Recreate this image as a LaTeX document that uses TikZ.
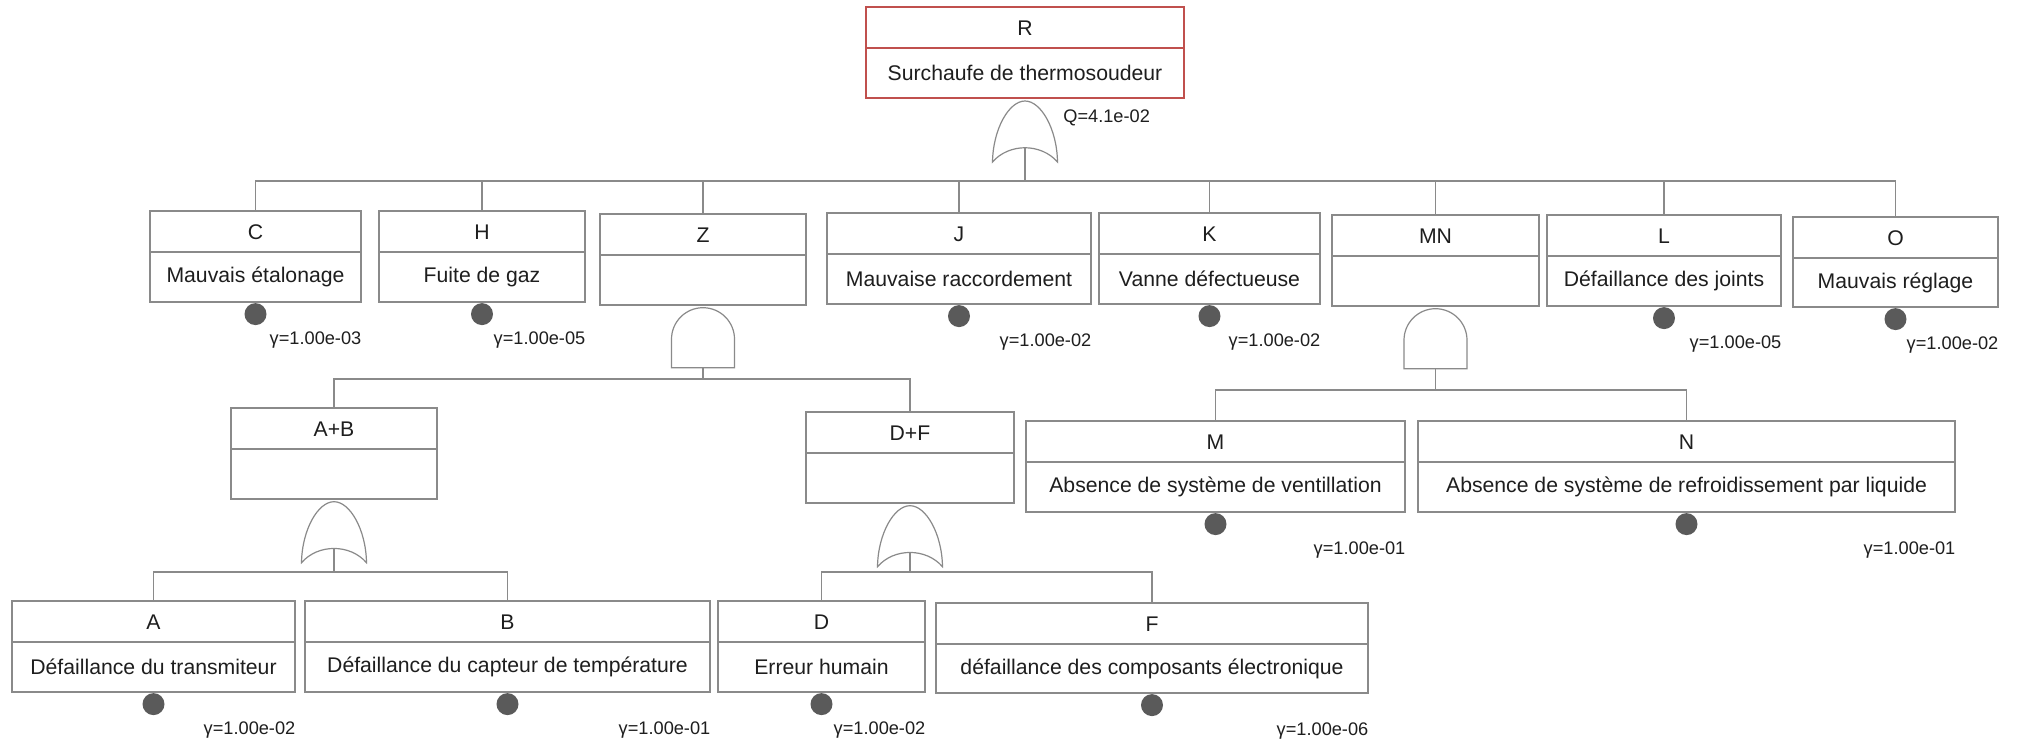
\documentclass[tikz,border=0pt]{standalone}
\usepackage{fontspec}
\setmainfont{Liberation Sans}
\usetikzlibrary{calc}

\definecolor{frame}{HTML}{8A8A8A}
\definecolor{topred}{HTML}{C0504D}
\definecolor{dotgray}{HTML}{5A5A5A}
\definecolor{ink}{HTML}{1E1E1E}

\tikzset{
  evframe/.style={draw=frame, line width=0.7pt, inner sep=0pt},
  topframe/.style={draw=topred, line width=1pt, inner sep=0pt},
  lbl/.style={text=ink, font=\fontsize{10.6}{12}\selectfont, inner sep=0pt},
  prob/.style={text=ink, font=\fontsize{9.1}{11}\selectfont, inner sep=0pt, anchor=east},
  basicdot/.style={circle, fill=dotgray, inner sep=0pt, minimum size=11pt, anchor=north},
  wire/.style={draw=frame, line width=0.7pt},
  gateline/.style={draw=frame, line width=0.6pt},
}

% event box: [style] name, left, right, top, bottom, identifier, description
\newcommand\evbox[8][evframe]{%
  \node[#1, minimum width={(#4-#3)*0.5pt}, minimum height={(#6-#5)*0.5pt}]
    (#2) at ({(#3+#4)/2},{(#5+#6)/2}) {};
  \draw[#1] (#3,{#5+41}) -- (#4,{#5+41});
  \node[lbl] (#2-id) at ({(#3+#4)/2},{#5+21}) {#7};
  \node[lbl] (#2-tx) at ({(#3+#4)/2},{(#5+41+#6)/2}) {#8};
}

% basic event marker under a box, with its probability
\newcommand\leaf[2]{%
  \node[basicdot] (#1-p) at (#1.south) {};
  \node[prob] (#1-q) at ($(#1.south east)+(0,37)$) {γ=#2};
}

% OR gate hanging under a box
\newcommand\orgate[2]{%
  \coordinate (#1) at ($(#2.south)+(0,2)$);
  \draw[gateline] ($(#1)+(-32.5,61)$)
    .. controls ($(#1)+(-32,28)$) and ($(#1)+(-16,0)$) .. (#1)
    .. controls ($(#1)+(16,0)$) and ($(#1)+(32,28)$) .. ($(#1)+(32.5,61)$)
    .. controls ($(#1)+(16,42)$) and ($(#1)+(-16,42)$) .. ($(#1)+(-32.5,61)$) -- cycle;
  \coordinate (#1-in) at ($(#1)+(0,47)$);
}

% AND gate hanging under a box
\newcommand\andgate[2]{%
  \coordinate (#1) at ($(#2.south)+(0,2)$);
  \draw[gateline] ($(#1)+(-31.5,60)$) -- ($(#1)+(-31.5,31.5)$)
    .. controls ($(#1)+(-31.5,14.1)$) and ($(#1)+(-17.4,0)$) .. (#1)
    .. controls ($(#1)+(17.4,0)$) and ($(#1)+(31.5,14.1)$) .. ($(#1)+(31.5,31.5)$)
    -- ($(#1)+(31.5,60)$) -- cycle;
  \coordinate (#1-in) at ($(#1)+(0,60)$);
}

\begin{document}
\begin{tikzpicture}[x=0.5pt, y=-0.5pt]
\useasboundingbox[fill=white] (0,0) rectangle (2020,744);

% top event
\evbox[topframe]{R}{866}{1184}{7}{98}{R}{Surchaufe de thermosoudeur}
\orgate{gR}{R}
\node[prob, anchor=west] (R-q) at (1063,118) {Q=4.1e-02};

% first level
\evbox{C}{150}{361}{211}{302}{C}{Mauvais étalonage}
\evbox{H}{379}{585}{211}{302}{H}{Fuite de gaz}
\evbox{Z}{600}{806}{214}{305}{Z}{}
\evbox{J}{827}{1091}{213}{304}{J}{Mauvaise raccordement}
\evbox{K}{1099}{1320}{213}{304}{K}{Vanne défectueuse}
\evbox{MN}{1332}{1539}{215}{306}{MN}{}
\evbox{L}{1547}{1781}{215}{306}{L}{Défaillance des joints}
\evbox{O}{1793}{1998}{217}{307}{O}{Mauvais réglage}

\leaf{C}{1.00e-03}
\leaf{H}{1.00e-05}
\leaf{J}{1.00e-02}
\leaf{K}{1.00e-02}
\leaf{L}{1.00e-05}
\leaf{O}{1.00e-02}

\andgate{gZ}{Z}
\andgate{gMN}{MN}

% second level
\evbox{AB}{231}{437}{408}{499}{A+B}{}
\evbox{DF}{806}{1014}{412}{503}{D+F}{}
\evbox{M}{1026}{1405}{421}{512}{M}{Absence de système de ventillation}
\evbox{N}{1418}{1955}{421}{512}{N}{Absence de système de refroidissement par liquide}

\leaf{M}{1.00e-01}
\leaf{N}{1.00e-01}

\orgate{gAB}{AB}
\orgate{gDF}{DF}

% third level
\evbox{A}{12}{295}{601}{692}{A}{Défaillance du transmiteur}
\evbox{B}{305}{710}{601}{692}{B}{Défaillance du capteur de température}
\evbox{D}{718}{925}{601}{692}{D}{Erreur humain}
\evbox{F}{936}{1368}{603}{693}{F}{défaillance des composants électronique}

\leaf{A}{1.00e-02}
\leaf{B}{1.00e-01}
\leaf{D}{1.00e-02}
\leaf{F}{1.00e-06}

% connectors
\coordinate (R-bus) at (gR-in |- 0,181);
\draw[wire] (gR-in) -- (R-bus);
\foreach \c in {C,H,Z,J,K,MN,L,O} \draw[wire] (R-bus) -| (\c.north);

\coordinate (Z-bus) at (gZ-in |- 0,379);
\draw[wire] (gZ-in) -- (Z-bus);
\foreach \c in {AB,DF} \draw[wire] (Z-bus) -| (\c.north);

\coordinate (MN-bus) at (gMN-in |- 0,390);
\draw[wire] (gMN-in) -- (MN-bus);
\foreach \c in {M,N} \draw[wire] (MN-bus) -| (\c.north);

\coordinate (AB-bus) at (gAB-in |- 0,572);
\draw[wire] (gAB-in) -- (AB-bus);
\foreach \c in {A,B} \draw[wire] (AB-bus) -| (\c.north);

\coordinate (DF-bus) at (gDF-in |- 0,572);
\draw[wire] (gDF-in) -- (DF-bus);
\foreach \c in {D,F} \draw[wire] (DF-bus) -| (\c.north);
\end{tikzpicture}
\end{document}
